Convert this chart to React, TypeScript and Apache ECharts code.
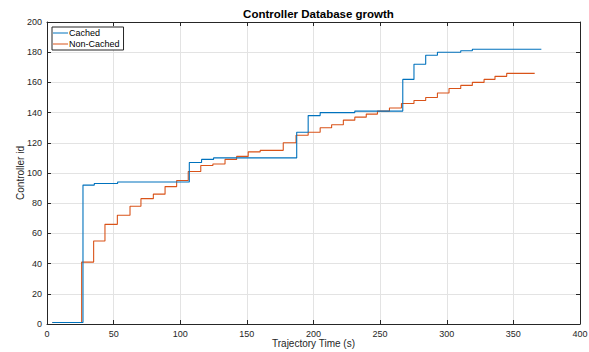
import React, { useEffect, useRef } from "react";
import * as echarts from "echarts";

const cachedX = [4, 27, 35.5, 53, 106.8, 116, 125, 187.4, 196, 205, 231, 267, 275.4, 284.2, 293, 310.5, 319.2, 371];
const cachedY = [1, 92, 93, 94, 107, 109, 110, 127, 138, 140, 141, 162, 172, 178, 180, 181, 182, 182];

const nonCachedX = [4, 26, 35, 43.5, 52.8, 62.3, 70.5, 79.8, 88.6, 97.3, 106, 115.4, 124.5, 133.6, 142.3, 151, 160, 177.3, 186.9, 196, 205, 213.6, 222.4, 231, 239.6, 248, 257, 266, 275.4, 284.2, 293, 301.7, 310.5, 319.2, 328, 336.2, 345, 366];
const nonCachedY = [1, 41, 55, 66, 72, 78, 83, 86, 91, 95, 101, 105, 106, 109, 111, 114, 115, 120, 125, 127, 130, 132, 135, 137, 139, 141, 143, 146, 148, 150, 153, 156, 158, 160, 162, 164, 166, 166];

const seriesNames = ["Cached", "Non-Cached"];
const titleText = "Controller Database growth";
const xName = "Trajectory Time (s)";
const yName = "Controller id";

const FONT = "'Liberation Sans', Arial, Helvetica, sans-serif";
const AX = "#262626";

export default function App() {
  const ref = useRef<HTMLDivElement>(null);
  useEffect(() => {
    if (!ref.current) return;
    const chart = echarts.init(ref.current, null, { renderer: "svg" });
    const zip = (xs: number[], ys: number[]) => xs.map((x, i) => [x, ys[i]]);
    const baseAxis = {
      axisLine: { show: true, onZero: false, lineStyle: { color: AX, width: 1 } },
      axisTick: { show: true, inside: true, length: 4, lineStyle: { color: AX } },
    };
    chart.setOption({
      animation: false,
      backgroundColor: "#ffffff",
      textStyle: { fontFamily: FONT },
      title: {
        text: titleText,
        left: 313.5,
        textAlign: "center",
        top: 3,
        textStyle: { fontSize: 11.5, fontWeight: "bold", color: "#000", fontFamily: FONT },
      },
      legend: {
        data: seriesNames,
        orient: "vertical",
        left: 52,
        top: 27,
        padding: [1, 4, 1, 1],
        itemGap: 1,
        itemWidth: 15,
        itemHeight: 1.2,
        icon: "path://M0,0 L15,0 L15,1 L0,1 Z",
        borderColor: AX,
        borderWidth: 1,
        backgroundColor: "#fff",
        textStyle: { fontSize: 9, color: "#000", fontFamily: FONT, padding: [0, 0, 0, -4], lineHeight: 10 },
      },
      grid: { left: 47, right: 9, top: 22, bottom: 28, containLabel: false, outerBoundsMode: "none" },
      xAxis: [
        {
          ...baseAxis,
          type: "value",
          min: 0,
          max: 400,
          interval: 50,
          position: "bottom",
          name: xName,
          nameLocation: "middle",
          nameGap: 14,
          nameMoveOverlap: false,
          nameTextStyle: { fontSize: 10, color: AX, fontFamily: FONT },
          axisLabel: { fontSize: 9, color: AX, margin: 5, fontFamily: FONT },
          splitLine: { show: true, lineStyle: { color: "#e3e3e3", width: 1 } },
        },
        {
          ...baseAxis,
          type: "value",
          min: 0,
          max: 400,
          interval: 50,
          position: "top",
          axisLabel: { show: false },
          splitLine: { show: false },
        },
      ],
      yAxis: [
        {
          ...baseAxis,
          type: "value",
          min: 0,
          max: 200,
          interval: 20,
          position: "left",
          name: yName,
          nameLocation: "middle",
          nameGap: 22,
          nameMoveOverlap: false,
          nameTextStyle: { fontSize: 10, color: AX, fontFamily: FONT },
          axisLabel: { fontSize: 9, color: AX, margin: 5, fontFamily: FONT },
          splitLine: { show: true, lineStyle: { color: "#e3e3e3", width: 1 } },
        },
        {
          ...baseAxis,
          type: "value",
          min: 0,
          max: 200,
          interval: 20,
          position: "right",
          axisLabel: { show: false },
          splitLine: { show: false },
        },
      ],
      series: [
        {
          name: seriesNames[0],
          type: "line",
          step: "end",
          symbol: "none",
          data: zip(cachedX, cachedY),
          lineStyle: { color: "#0072BD", width: 1.1 },
          itemStyle: { color: "#0072BD" },
          z: 3,
        },
        {
          name: seriesNames[1],
          type: "line",
          step: "end",
          symbol: "none",
          data: zip(nonCachedX, nonCachedY),
          lineStyle: { color: "#D95319", width: 1.1 },
          itemStyle: { color: "#D95319" },
          z: 2,
        },
      ],
    });
    return () => chart.dispose();
  }, []);
  return (
    <div
      ref={ref}
      style={{ position: "fixed", left: 0, top: 0, width: 589, height: 352, background: "#fff" }}
    />
  );
}
